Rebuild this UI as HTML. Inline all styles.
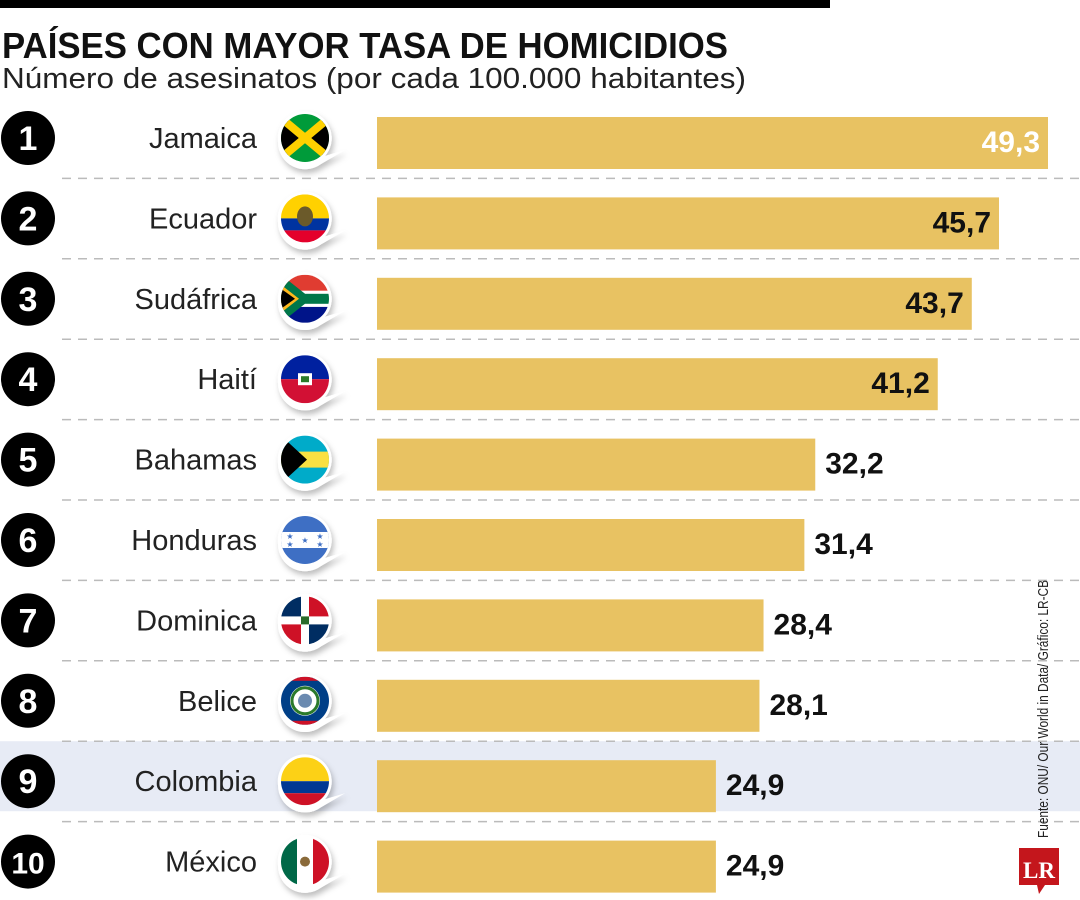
<!DOCTYPE html>
<html><head><meta charset="utf-8"><style>
html,body{margin:0;padding:0;background:#fff;}
svg{display:block;font-family:"Liberation Sans",sans-serif;}
</style></head><body>
<svg id="chart" width="1080" height="900" viewBox="0 0 1080 900" xmlns="http://www.w3.org/2000/svg">
<defs>
<filter id="sh" x="-30%" y="-30%" width="160%" height="160%"><feDropShadow dx="2" dy="4" stdDeviation="3" flood-color="#000" flood-opacity="0.25"/></filter>
<clipPath id="fc"><circle cx="0" cy="0" r="24"/></clipPath>
</defs>
<rect x="0" y="0" width="830" height="8" fill="#000"/>
<text x="2" y="58" font-size="36" font-weight="bold" textLength="726" lengthAdjust="spacingAndGlyphs" fill="#111">PAÍSES CON MAYOR TASA DE HOMICIDIOS</text>
<text x="2" y="88" font-size="29" textLength="744" lengthAdjust="spacingAndGlyphs" fill="#222">Número de asesinatos (por cada 100.000 habitantes)</text>
<g id="rows"></g>
<text transform="translate(1048,838) rotate(-90)" font-size="15" textLength="258" lengthAdjust="spacingAndGlyphs" fill="#222">Fuente: ONU/ Our World in Data/ Gráfico: LR-CB</text>
<g>
<path d="M1019 848 h40 v37 h-14 l-6 9 l-2 -9 h-18 z" fill="#c4161c"/>
<text x="1039" y="878" font-family="Liberation Serif,serif" font-weight="bold" font-size="23" fill="#fff" text-anchor="middle">LR</text>
</g>
</svg>
<script>
const countries=["Jamaica","Ecuador","Sudáfrica","Haití","Bahamas","Honduras","Dominica","Belice","Colombia","México"];
const values=[49.3,45.7,43.7,41.2,32.2,31.4,28.4,28.1,24.9,24.9];
const labels=["49,3","45,7","43,7","41,2","32,2","31,4","28,4","28,1","24,9","24,9"];
const highlightIndex=8;
const NS="http://www.w3.org/2000/svg";
const x0=377, pxPerUnit=(1048-377)/49.3;
const xScale=v=>x0+v*pxPerUnit;
const yCenter=i=>138+i*80.4;
const g=document.getElementById('rows');
function mk(t,a,p){const e=document.createElementNS(NS,t);for(const k in a)e.setAttribute(k,a[k]);(p||g).appendChild(e);return e;}
const flags={
"Jamaica":'<rect x="-24" y="-24" width="48" height="48" fill="#009b3a"/><path d="M-24-24L0 0L-24 24Z M24-24L0 0L24 24Z" fill="#000"/><path d="M-24-20L24 20M-24 20L24-20" stroke="#fed100" stroke-width="8"/>',
"Ecuador":'<rect x="-24" y="-24" width="48" height="24" fill="#ffd100"/><rect x="-24" y="0" width="48" height="12" fill="#0033a0"/><rect x="-24" y="12" width="48" height="12" fill="#e4002b"/><ellipse cx="0" cy="-2" rx="8" ry="10" fill="#6b5a2a"/>',
"Sudáfrica":'<rect x="-24" y="-24" width="48" height="16" fill="#e03c31"/><rect x="-24" y="8" width="48" height="16" fill="#001489"/><rect x="-24" y="-8" width="48" height="16" fill="#fff"/><path d="M-24-18L-4 0L-24 18" fill="none" stroke="#007749" stroke-width="0"/><rect x="-24" y="-5" width="48" height="10" fill="#007749"/><path d="M-24-24L0 -5V5L-24 24Z" fill="#007749"/><path d="M-24-14L-6 0L-24 14Z" fill="#ffb81c"/><path d="M-24-10L-10 0L-24 10Z" fill="#000"/>',
"Haití":'<rect x="-24" y="-24" width="48" height="24" fill="#00209f"/><rect x="-24" y="0" width="48" height="24" fill="#d21034"/><rect x="-7" y="-6" width="14" height="12" fill="#fff"/><rect x="-4" y="-3" width="8" height="6" fill="#2a7a2a"/>',
"Bahamas":'<rect x="-24" y="-24" width="48" height="48" fill="#00abc9"/><rect x="-24" y="-8" width="48" height="16" fill="#fae042"/><path d="M-24-24L2 0L-24 24Z" fill="#000"/>',
"Honduras":'<rect x="-24" y="-24" width="48" height="48" fill="#3e6fc4"/><rect x="-24" y="-8" width="48" height="16" fill="#fff"/><g fill="#3e6fc4" font-size="8" text-anchor="middle"><text x="-15" y="-1">★</text><text x="15" y="-1">★</text><text x="0" y="3">★</text><text x="-15" y="7">★</text><text x="15" y="7">★</text></g>',
"Dominica":'<rect x="-24" y="-24" width="48" height="48" fill="#fff"/><rect x="-24" y="-24" width="20" height="20" fill="#002d62"/><rect x="4" y="-24" width="20" height="20" fill="#ce1126"/><rect x="-24" y="4" width="20" height="20" fill="#ce1126"/><rect x="4" y="4" width="20" height="20" fill="#002d62"/><rect x="-4" y="-4" width="8" height="8" fill="#2a6a2a"/>',
"Belice":'<rect x="-24" y="-24" width="48" height="48" fill="#003f87"/><rect x="-24" y="-24" width="48" height="4" fill="#ce1126"/><rect x="-24" y="20" width="48" height="4" fill="#ce1126"/><circle r="15" fill="#fff"/><circle r="13" fill="none" stroke="#2b7a2b" stroke-width="3"/><circle r="7" fill="#6b8ab0"/>',
"Colombia":'<rect x="-24" y="-24" width="48" height="24" fill="#fcd116"/><rect x="-24" y="0" width="48" height="12" fill="#003893"/><rect x="-24" y="12" width="48" height="12" fill="#ce1126"/>',
"México":'<rect x="-24" y="-24" width="16" height="48" fill="#006847"/><rect x="-8" y="-24" width="16" height="48" fill="#fff"/><rect x="8" y="-24" width="16" height="48" fill="#ce1126"/><circle r="5" fill="#8a6a3a"/>'
};
countries.forEach((c,i)=>{
  const cy=yCenter(i);
  if(i===highlightIndex){
    const hl=mk('rect',{x:0,y:cy-40,width:1080,height:70,fill:'#e7ebf5'});
    
    
  }
  if(i>0){
    const dl=mk('line',{x1:62,x2:1080,y1:cy-40,y2:cy-40,stroke:'#bbb','stroke-width':1.5,'stroke-dasharray':'9 7'});
    
    
  }
  const rc=mk('circle',{cx:28,cy:cy,r:27,fill:'#000'});
  
  
  const rt=mk('text',{x:28,y:cy+12,'font-size':(i===9?30:34),'font-weight':'bold',fill:'#fff','text-anchor':'middle'});
  rt.textContent=String(i+1);
  
  
  const nt=mk('text',{x:257,y:cy+10,'font-size':29,fill:'#222','text-anchor':'end'});
  nt.textContent=c;
  
  
  const fg=mk('g',{transform:`translate(305,${cy})`});
  
  
  mk('path',{d:'M-27 4 A27 27 0 1 1 20 18 L40 12 L16 26 A27 27 0 0 1 -27 4Z',fill:'#fff',filter:'url(#sh)'},fg);
  const inner=mk('g',{'clip-path':'url(#fc)'},fg);
  inner.innerHTML=flags[c];
  const bar=mk('rect',{x:x0,y:cy-21,width:xScale(values[i])-x0,height:52,fill:'#e8c262'});
  
  
  const inside=values[i]>40;
  const vt=mk('text',{x:inside?xScale(values[i])-8:xScale(values[i])+10,y:cy+14,'font-size':30,'font-weight':'bold',fill:i===0?'#fff':'#111','text-anchor':inside?'end':'start'});
  vt.textContent=labels[i];
  
  
});
</script>
</body></html>
